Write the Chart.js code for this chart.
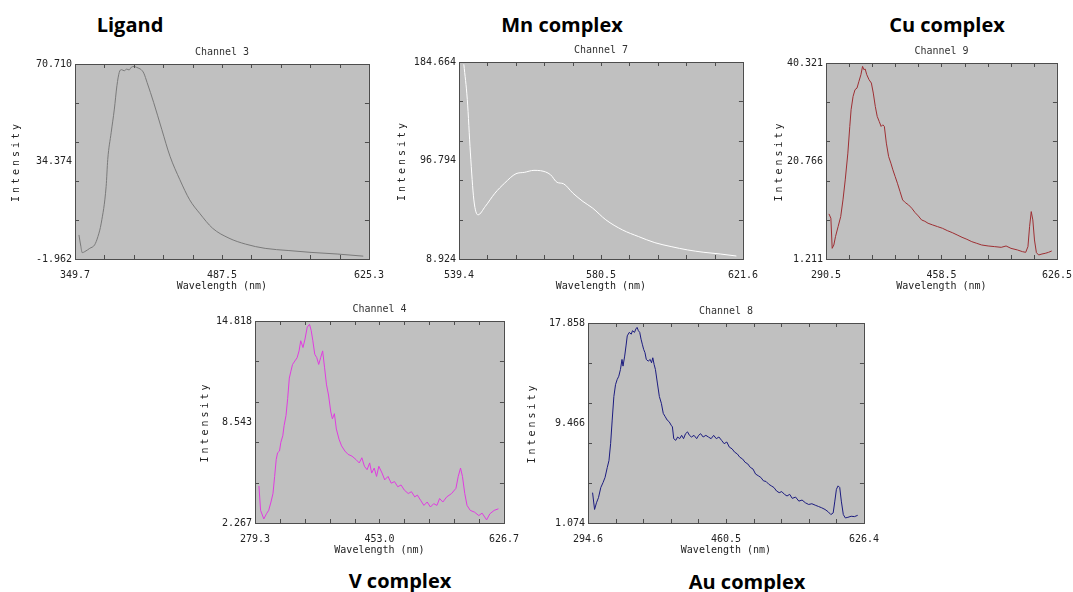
<!DOCTYPE html>
<html>
<head>
<meta charset="utf-8">
<script src="https://cdn.jsdelivr.net/npm/chart.js@4.4.1/dist/chart.umd.min.js"></script>
<style>
  html, body { margin: 0; padding: 0; background: #fff; overflow: hidden; }
  body { position: relative; width: 1073px; height: 592px; }
  canvas { position: absolute; }
  .name { position: absolute; transform: translate(-50%, -50%); white-space: nowrap;
          font: bold 20px "Open Sans", "Liberation Sans", sans-serif; color: #000; }
</style>
</head>
<body>
<div class="name" style="left:130px;top:24px">Ligand</div>
<div class="name" style="left:562px;top:24px">Mn complex</div>
<div class="name" style="left:947px;top:24px">Cu complex</div>
<div class="name" style="left:400px;top:580px">V complex</div>
<div class="name" style="left:747px;top:581px">Au complex</div>

<canvas id="ch3"></canvas>
<canvas id="ch7"></canvas>
<canvas id="ch9"></canvas>
<canvas id="ch4"></canvas>
<canvas id="ch8"></canvas>

<script>
const MONO = '"DejaVu Sans Mono", "Liberation Mono", monospace';

// Ligand - Channel 3
const ligandWl  = [353.4, 355.2, 356.5, 358.9, 363.5, 368.1, 371.2, 374.3, 378.9, 380.4, 383.6, 386.6, 389.0, 391.2, 393.3, 395.8, 398.2, 400.4, 402.5, 405.0, 407.2, 409.6, 411.8, 414.2, 417.3, 423.5, 431.0, 438.8, 448.0, 457.2, 466.5, 478.7, 494.1, 509.5, 528.0, 549.5, 571.0, 595.5, 620.0];
const ligandInt = [7.0, 2.7, 0.4, 0.8, 2.0, 3.3, 6.4, 11.4, 25.1, 35.1, 45.1, 53.9, 62.6, 67.6, 68.6, 68.2, 68.8, 68.5, 69.5, 69.8, 69.5, 69.1, 68.6, 67.3, 63.8, 56.3, 46.4, 36.3, 27.6, 20.1, 15.1, 9.5, 5.8, 3.6, 2.0, 1.2, 0.5, -0.1, -0.9];
const ligandXTicks = [349.7, 487.5, 625.3];
const ligandYTicks = [-1.962, 34.374, 70.710];

// Mn complex - Channel 7
const mnWl  = [540.8, 541.8, 542.7, 543.7, 544.9, 547.0, 549.8, 552.6, 555.9, 558.3, 561.1, 563.0, 565.9, 567.8, 569.6, 572.4, 575.3, 578.1, 581.9, 586.7, 591.4, 596.1, 600.8, 605.6, 610.3, 615.0, 619.7];
const mnInt = [182.6, 151.3, 103.5, 61.6, 48.3, 55.8, 67.6, 76.6, 85.0, 86.2, 88.0, 87.7, 84.1, 77.3, 76.1, 67.6, 60.2, 54.3, 43.9, 34.9, 28.9, 23.5, 20.0, 17.0, 14.9, 13.4, 11.6];
const mnXTicks = [539.4, 580.5, 621.6];
const mnYTicks = [8.924, 96.794, 184.664];

// Cu complex - Channel 9
const cuWl  = [294.8, 297.6, 299.5, 301.9, 304.3, 308.1, 311.9, 315.2, 318.5, 322.3, 325.1, 327.0, 329.9, 332.7, 335.6, 338.4, 341.3, 343.7, 345.6, 347.5, 349.8, 353.1, 356.5, 359.3, 362.2, 365.0, 367.9, 370.7, 373.1, 375.4, 378.3, 381.6, 384.9, 387.8, 391.1, 394.4, 398.2, 402.0, 405.8, 410.6, 415.3, 420.1, 424.8, 429.5, 434.3, 439.0, 445.6, 452.8, 459.9, 467.0, 474.2, 481.3, 488.4, 495.5, 502.6, 509.8, 516.9, 526.4, 535.9, 545.4, 552.5, 559.6, 569.1, 576.2, 581.0, 584.3, 586.7, 589.1, 591.4, 593.8, 596.6, 599.9, 604.7, 609.4, 614.2, 618.9];
const cuInt = [10.21, 9.34, 3.34, 4.01, 5.67, 7.67, 9.67, 13.00, 17.00, 22.33, 27.66, 30.99, 33.66, 34.99, 35.32, 36.66, 37.99, 39.65, 38.99, 39.12, 37.99, 36.99, 36.32, 34.32, 31.66, 29.66, 28.66, 27.66, 27.99, 27.66, 24.33, 21.66, 20.33, 19.00, 17.67, 16.33, 14.67, 13.00, 12.47, 12.00, 11.34, 10.47, 9.80, 9.01, 8.74, 8.34, 8.01, 7.67, 7.34, 6.87, 6.47, 6.01, 5.54, 5.14, 4.67, 4.34, 4.01, 3.81, 3.68, 3.54, 3.81, 3.34, 3.01, 2.68, 2.54, 3.68, 7.67, 10.67, 9.01, 5.01, 2.48, 2.01, 2.21, 2.34, 2.54, 2.81];
const cuXTicks = [290.5, 458.5, 626.5];
const cuYTicks = [1.211, 20.766, 40.321];

// V complex - Channel 4
const vWl  = [284.8, 287.1, 291.6, 295.3, 298.4, 301.6, 304.4, 306.7, 308.9, 310.8, 313.5, 315.3, 318.1, 319.9, 322.6, 324.9, 327.2, 329.4, 331.7, 334.9, 338.1, 340.8, 343.1, 346.3, 349.1, 352.2, 355.4, 357.7, 360.0, 362.7, 365.5, 368.2, 370.9, 373.7, 376.4, 379.1, 381.9, 385.1, 387.3, 390.1, 392.8, 396.5, 400.1, 404.7, 409.2, 414.7, 420.2, 424.7, 428.4, 432.0, 435.7, 439.3, 442.1, 445.7, 448.9, 452.1, 456.6, 460.3, 464.9, 469.4, 474.0, 478.5, 483.1, 487.7, 493.1, 497.7, 502.2, 505.9, 510.4, 515.0, 519.6, 524.1, 528.7, 533.2, 536.9, 541.4, 546.9, 553.7, 559.7, 562.9, 566.1, 568.8, 572.0, 575.2, 579.7, 585.7, 591.6, 596.2, 602.5, 607.1, 613.0, 619.0];
const vInt = [4.57, 3.05, 2.52, 2.84, 3.05, 3.57, 4.10, 5.16, 6.21, 6.63, 6.74, 7.27, 7.69, 8.32, 8.95, 10.01, 11.27, 11.70, 12.12, 12.33, 12.54, 12.96, 13.59, 13.17, 13.70, 14.44, 14.61, 14.23, 13.59, 12.75, 12.54, 12.12, 12.54, 12.96, 11.91, 10.85, 10.22, 9.16, 8.74, 9.06, 8.11, 7.48, 7.06, 6.74, 6.53, 6.42, 6.21, 6.00, 6.32, 5.79, 5.58, 6.00, 5.37, 5.68, 5.16, 5.79, 5.37, 4.95, 5.16, 4.74, 4.84, 4.52, 4.63, 4.31, 4.10, 4.21, 3.89, 4.00, 3.68, 3.36, 3.57, 3.26, 3.47, 3.36, 3.79, 3.57, 3.89, 4.10, 4.42, 5.16, 5.68, 5.16, 4.10, 3.36, 3.05, 2.94, 2.73, 2.88, 2.46, 2.84, 3.05, 3.15];
const vXTicks = [279.3, 453.0, 626.7];
const vYTicks = [2.267, 8.543, 14.818];

// Au complex - Channel 8
const auWl  = [300.1, 302.5, 304.8, 307.2, 310.0, 312.7, 315.1, 317.8, 319.8, 321.8, 323.7, 325.7, 327.7, 329.6, 331.6, 333.6, 335.5, 336.7, 338.7, 340.3, 341.8, 344.2, 346.6, 348.1, 350.5, 352.1, 353.6, 355.2, 356.8, 358.4, 359.9, 361.5, 363.1, 364.7, 367.0, 369.4, 371.0, 372.5, 374.1, 375.7, 378.0, 380.4, 382.8, 385.1, 387.5, 389.8, 392.2, 394.6, 396.1, 397.7, 400.1, 402.4, 404.8, 407.2, 409.5, 411.9, 414.3, 416.6, 419.0, 422.1, 425.3, 427.6, 430.0, 433.1, 436.3, 439.4, 442.6, 445.7, 448.9, 452.0, 455.2, 458.3, 461.5, 464.6, 467.8, 470.9, 474.1, 477.2, 480.4, 483.5, 486.7, 489.8, 493.0, 496.1, 499.3, 502.4, 505.6, 508.7, 511.9, 515.0, 518.2, 521.3, 524.5, 527.6, 530.8, 533.9, 537.1, 540.2, 544.2, 548.1, 552.0, 556.0, 559.9, 563.8, 567.8, 571.7, 575.6, 579.6, 583.5, 586.6, 589.4, 591.4, 593.3, 595.3, 597.3, 599.2, 601.6, 604.0, 607.1, 611.0, 615.0, 618.9];
const auInt = [3.62, 2.21, 2.77, 3.20, 4.05, 4.47, 4.90, 5.74, 6.31, 7.73, 9.71, 11.69, 12.68, 13.10, 13.39, 13.95, 14.80, 14.24, 15.08, 15.93, 16.78, 17.07, 16.92, 17.21, 17.07, 17.35, 17.49, 17.21, 17.07, 16.50, 16.08, 15.65, 15.37, 14.80, 14.66, 14.80, 14.52, 14.94, 14.38, 13.95, 12.82, 11.69, 11.12, 10.27, 9.99, 9.71, 9.57, 9.28, 9.14, 8.15, 8.01, 8.29, 8.15, 8.43, 8.15, 8.57, 8.72, 8.43, 8.29, 8.43, 8.15, 8.43, 8.57, 8.29, 8.43, 8.29, 8.15, 8.43, 8.15, 8.29, 8.01, 7.73, 7.87, 7.44, 7.30, 7.02, 6.87, 6.59, 6.45, 6.17, 6.03, 5.74, 5.60, 5.18, 5.04, 4.90, 4.61, 4.56, 4.33, 4.19, 4.05, 3.76, 3.62, 3.71, 3.48, 3.34, 3.48, 3.14, 3.25, 2.91, 3.00, 2.77, 2.63, 2.69, 2.57, 2.46, 2.35, 2.21, 2.01, 1.78, 1.92, 2.91, 3.90, 4.19, 4.05, 2.91, 1.78, 1.50, 1.55, 1.64, 1.61, 1.72];
const auXTicks = [294.6, 460.5, 626.4];
const auYTicks = [1.074, 9.466, 17.858];

// grey plot background, frame, inward minor ticks and spaced y title
const framePlugin = {
  id: 'frame',
  beforeDatasetsDraw(chart) {
    const {ctx, chartArea: a} = chart;
    ctx.save();
    ctx.fillStyle = '#c0c0c0';
    ctx.fillRect(a.left, a.top, a.width, a.height);
    ctx.restore();
  },
  afterDraw(chart, args, opts) {
    const {ctx, chartArea: a, scales: {x, y}} = chart;
    ctx.save();
    ctx.strokeStyle = '#4d4d4d';
    ctx.lineWidth = 1;
    ctx.beginPath();
    for (let i = 1; i < 10; i++) {
      const px = Math.round(x.getPixelForValue(x.min + i * (x.max - x.min) / 10)) + 0.5;
      ctx.moveTo(px, a.bottom); ctx.lineTo(px, a.bottom - 4);
      ctx.moveTo(px, a.top); ctx.lineTo(px, a.top + 4);
    }
    for (let i = 1; i < 5; i++) {
      const py = Math.round(y.getPixelForValue(y.min + i * (y.max - y.min) / 5)) + 0.5;
      ctx.moveTo(a.left, py); ctx.lineTo(a.left + 4, py);
      ctx.moveTo(a.right, py); ctx.lineTo(a.right - 4, py);
    }
    ctx.stroke();
    ctx.strokeRect(Math.round(a.left) + 0.5, Math.round(a.top) + 0.5, Math.round(a.width), Math.round(a.height));

    ctx.translate(opts.yTitleX, (a.top + a.bottom) / 2);
    ctx.rotate(-Math.PI / 2);
    ctx.letterSpacing = '3px';
    ctx.font = '10px ' + MONO;
    ctx.fillStyle = '#222';
    ctx.textAlign = 'center';
    ctx.textBaseline = 'middle';
    ctx.fillText('Intensity', 0, 0);
    ctx.restore();
  }
};

function makePanel(cfg) {
  const L = 75, T = 40, R = 20, B = 36;
  const canvas = document.getElementById(cfg.id);
  canvas.width = L + cfg.plot.w + R;
  canvas.height = T + cfg.plot.h + B;
  canvas.style.left = (cfg.plot.x - L) + 'px';
  canvas.style.top = (cfg.plot.y - T) + 'px';

  const points = cfg.wl.map((w, i) => ({x: w, y: cfg.int[i]}));
  const tickFont = {family: MONO, size: 10};

  return new Chart(canvas, {
    type: 'line',
    data: {
      datasets: [{
        data: points,
        borderColor: cfg.color,
        borderWidth: 1,
        pointRadius: 0,
        cubicInterpolationMode: cfg.smooth ? 'monotone' : 'default',
        tension: 0,
        fill: false
      }]
    },
    options: {
      responsive: false,
      animation: false,
      layout: {padding: {left: 0, top: 0, right: R, bottom: 0}},
      plugins: {
        legend: {display: false},
        tooltip: {enabled: false},
        title: {
          display: true,
          fullSize: false,
          text: cfg.channel,
          color: '#333',
          font: {family: MONO, size: 10, weight: 'normal', lineHeight: '12px'},
          padding: {top: T - 18, bottom: 6}
        },
        frame: {yTitleX: L - cfg.yGap}
      },
      scales: {
        x: {
          type: 'linear',
          min: cfg.xTicks[0],
          max: cfg.xTicks[2],
          afterBuildTicks: s => { s.ticks = cfg.xTicks.map(v => ({value: v})); },
          afterFit: s => { s.height = B; },
          grid: {display: false, drawTicks: false},
          border: {display: false},
          ticks: {autoSkip: false, maxRotation: 0, padding: 10, color: '#222', font: tickFont,
                  callback: v => Number(v).toFixed(1)},
          title: {display: true, text: 'Wavelength (nm)', color: '#222',
                  font: {family: MONO, size: 10, lineHeight: '12px'}, padding: {top: 0, bottom: 3}}
        },
        y: {
          type: 'linear',
          min: cfg.yTicks[0],
          max: cfg.yTicks[2],
          afterBuildTicks: s => { s.ticks = cfg.yTicks.map(v => ({value: v})); },
          afterFit: s => { s.width = L; },
          grid: {display: false, drawTicks: false},
          border: {display: false},
          ticks: {autoSkip: false, padding: 3, color: '#222', font: tickFont,
                  callback: v => Number(v).toFixed(3)}
        }
      }
    },
    plugins: [framePlugin]
  });
}

makePanel({id: 'ch3', channel: 'Channel 3', wl: ligandWl, int: ligandInt, xTicks: ligandXTicks, yTicks: ligandYTicks,
  color: '#7a7a7a', smooth: true, plot: {x: 75, y: 64, w: 299, h: 195}, yGap: 59});
makePanel({id: 'ch7', channel: 'Channel 7', wl: mnWl, int: mnInt, xTicks: mnXTicks, yTicks: mnYTicks,
  color: '#ffffff', smooth: true, plot: {x: 459, y: 62, w: 289, h: 197}, yGap: 57});
makePanel({id: 'ch9', channel: 'Channel 9', wl: cuWl, int: cuInt, xTicks: cuXTicks, yTicks: cuYTicks,
  color: '#9e2f33', plot: {x: 826, y: 63, w: 236, h: 196}, yGap: 47});
makePanel({id: 'ch4', channel: 'Channel 4', wl: vWl, int: vInt, xTicks: vXTicks, yTicks: vYTicks,
  color: '#e03ce0', plot: {x: 255, y: 321, w: 254, h: 202}, yGap: 50});
makePanel({id: 'ch8', channel: 'Channel 8', wl: auWl, int: auInt, xTicks: auXTicks, yTicks: auYTicks,
  color: '#1c1c80', plot: {x: 588, y: 323, w: 281, h: 200}, yGap: 56});
</script>
</body>
</html>
